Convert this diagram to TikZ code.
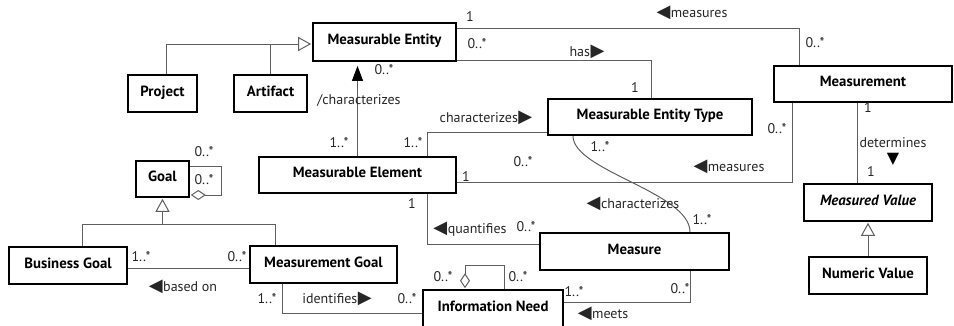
\documentclass[tikz,border=0pt]{standalone}
\usepackage{fontspec}
\setmainfont{PT Sans}
\newfontfamily\symf{DejaVu Sans}
\usetikzlibrary{arrows.meta}
\definecolor{linec}{RGB}{95,95,95}
\newcommand\triL{{\symf\fontsize{18}{18}\selectfont ◀}\hspace{0.5pt}}
\newcommand\triR{\hspace{0.5pt}{\symf\fontsize{18}{18}\selectfont ▶}}
\newcommand\triD{{\symf\fontsize{16}{16}\selectfont ▼}}
\begin{document}
\begin{tikzpicture}[x=1pt,y=-1pt,
  cls/.style={draw=black, line width=1.8pt, fill=white, inner sep=0pt,
    font=\fontsize{14.8}{16}\selectfont\bfseries, text height=9.5pt, text depth=4pt},
  conn/.style={draw=linec, line width=1pt},
  lbl/.style={inner sep=0pt, font=\fontsize{14}{15}\selectfont, text height=9.6pt, text depth=0pt, text=black!85},
  gen/.style={-{Triangle[fill=white,width=14pt,length=13pt]}, shorten >=0.9pt},
  agg/.style={-{Diamond[fill=white,width=10pt,length=15pt]}, shorten >=0.9pt}]
\useasboundingbox (0,0) rectangle (954,325);

% classes
\node[cls, minimum width=143pt, minimum height=38pt] (me) at (384.5,42) {Measurable Entity};
\node[cls, minimum width=69pt, minimum height=37pt] (proj) at (162.5,93.5) {Project};
\node[cls, minimum width=73pt, minimum height=37pt] (art) at (270.5,93.5) {Artifact};
\node[cls, minimum width=178pt, minimum height=36pt] (mnt) at (863,84) {Measurement};
\node[cls, minimum width=204pt, minimum height=36pt] (met) at (650,117) {Measurable Entity Type};
\node[cls, minimum width=197pt, minimum height=36pt] (mel) at (357.5,175) {Measurable Element};
\node[cls, minimum width=53pt, minimum height=36pt] (goal) at (162.5,179) {Goal};
\node[cls, minimum width=118pt, minimum height=37pt] (bg) at (68,265.5) {Business Goal};
\node[cls, minimum width=147pt, minimum height=37pt] (mg) at (323.5,264.5) {Measurement Goal};
\node[cls, minimum width=189pt, minimum height=37pt] (meas) at (634.5,251.5) {Measure};
\node[cls, minimum width=140pt, minimum height=37pt] (in) at (493,308.5) {Information Need};
\node[cls, minimum width=128pt, minimum height=37pt] (mv) at (868,202.5) {\itshape Measured Value};
\node[cls, minimum width=118pt, minimum height=37pt] (nv) at (868,275.5) {Numeric Value};

% connectors
\draw[conn] ([yshift=-6pt]me.north east) -| ([xshift=-64pt]mnt.north);
\draw[conn] ([yshift=1pt]me.south east) -| ([xshift=1pt]met.north);
\draw[conn,-{Triangle[width=11pt,length=15pt,color=black]}, shorten >=4pt] (mel.north) -- (mel.north |- me.south);
\draw[conn] ([xshift=-29pt]mel.north east) |- ([yshift=-15pt]met.west);
\draw[conn] ([yshift=-7pt]mel.east) -| ([xshift=-71pt]mnt.south);
\draw[conn] ([xshift=-77pt]met.south) .. controls +(0,35) and +(0,-40) .. ([xshift=55.5pt]meas.north);
\draw[conn] ([xshift=-29pt]mel.south east) |- ([yshift=7.5pt]meas.west);
\draw[conn,agg] ([yshift=13pt]goal.east) -- ++(32,0) |- ([yshift=-16pt]goal.east);
\coordinate (gj) at ([yshift=-27pt]goal.south);
\draw[conn] ([xshift=14pt]bg.north) |- (gj) -| ([xshift=-48.5pt]mg.north);
\draw[conn,gen] (gj) -- (goal.south);
\coordinate (bge) at ([yshift=-2.5pt]bg.east);
\draw[conn] (bge) -- (bge -| mg.west);
\draw[conn] ([xshift=-41.5pt]mg.south) |- ([yshift=-4.5pt]in.west);
\draw[conn,agg] ([xshift=11pt]in.north) -- ++(0,-24) -| ([xshift=-28pt]in.north);
\draw[conn] ([yshift=6.5pt]in.east) -| ([xshift=55.5pt]meas.south);
\coordinate (dt) at ([xshift=-6pt]mnt.south);
\draw[conn] (dt) -- (dt |- mv.north);
\draw[conn,gen] (nv.north) -- (mv.south);
\coordinate (mew) at ([yshift=-2pt]me.west);
\draw[conn,gen] ([xshift=3.5pt]proj.north) |- (mew);
\draw[conn] (art.north) -- (art.north |- mew);

% labels
\node[lbl] (l1) at (470,17) {1};
\node[lbl] (l2) at (692,13) {\triL measures};
\node[lbl] (l3) at (815,43) {0..*};
\node[lbl] (l4) at (477,44) {0..*};
\node[lbl] (l5) at (587,52) {has\triR};
\node[lbl] (l6) at (635,88) {1};
\node[lbl] (l7) at (384,70) {0..*};
\node[lbl] (l8) at (359,100) {/characterizes};
\node[lbl] (l9) at (339,143) {1..*};
\node[lbl] (l10) at (413,143) {1..*};
\node[lbl] (l11) at (486,118) {characterizes\triR};
\node[lbl] (l12) at (600,147) {1..*};
\node[lbl] (l13) at (523,162) {0..*};
\node[lbl] (l14) at (466,177) {1};
\node[lbl] (l15) at (729,167) {\triL measures};
\node[lbl] (l16) at (777,129) {0..*};
\node[lbl] (l17) at (412,204) {1};
\node[lbl] (l18) at (470,229) {\triL quantifies};
\node[lbl] (l19) at (526,227) {0..*};
\node[lbl] (l20) at (633,204) {\triL characterizes};
\node[lbl] (l21) at (702,220) {1..*};
\node[lbl] (l22) at (680,289) {0..*};
\node[lbl] (l23) at (574,292) {1..*};
\node[lbl] (l24) at (603,314) {\triL meets};
\node[lbl] (l25) at (443,277) {0..*};
\node[lbl] (l26) at (518,277) {0..*};
\node[lbl] (l27) at (337,299) {identifies\triR};
\node[lbl] (l28) at (407,299) {0..*};
\node[lbl] (l29) at (267,299) {1..*};
\node[lbl] (l30) at (141,257) {1..*};
\node[lbl] (l31) at (237,257) {0..*};
\node[lbl] (l32) at (183,287) {\triL based on};
\node[lbl] (l33) at (204,152) {0..*};
\node[lbl] (l34) at (204,180) {0..*};
\node[lbl] (l35) at (868,108) {1};
\node[lbl] (l36) at (893,143) {determines};
\node[inner sep=0pt, text height=11pt, text depth=0pt, anchor=base] (l37) at (893,163) {\triD};
\node[lbl] (l38) at (871,172) {1};
\end{tikzpicture}
\end{document}
